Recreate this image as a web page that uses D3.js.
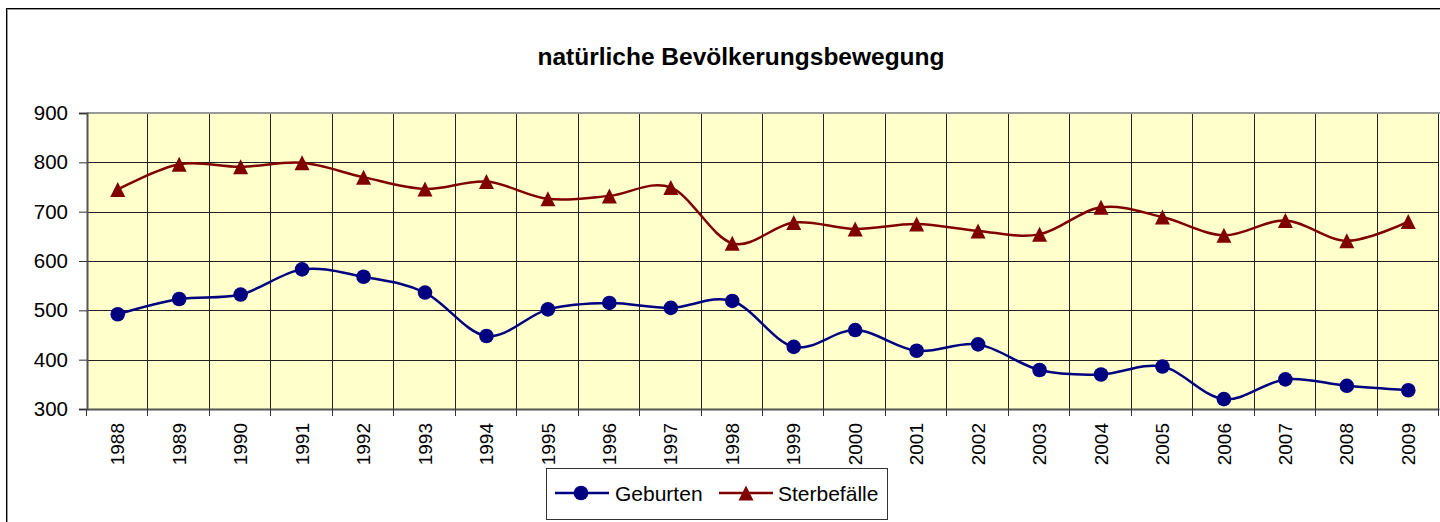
<!DOCTYPE html>
<html>
<head>
<meta charset="utf-8">
<script src="https://cdn.jsdelivr.net/npm/d3@7/dist/d3.min.js"></script>
<style>
  html, body { margin: 0; padding: 0; background: #fff; }
  svg { display: block; }
  text { font-family: Arial, "Liberation Sans", sans-serif; fill: #000; }
</style>
</head>
<body>
<svg id="chart" width="1440" height="522"></svg>
<script>
const title = "natürliche Bevölkerungsbewegung";
const years = ["1988","1989","1990","1991","1992","1993","1994","1995","1996","1997","1998","1999","2000","2001","2002","2003","2004","2005","2006","2007","2008","2009"];
const geburten = [492, 523, 532, 583, 568, 536, 448, 502, 515, 505, 519, 426, 460, 418, 431, 379, 370, 386, 320, 360, 347, 338];
const sterbefaelle = [745, 796, 791, 799, 770, 746, 761, 726, 732, 749, 636, 678, 665, 675, 661, 654, 709, 689, 652, 682, 641, 680];
const yTicks = [300, 400, 500, 600, 700, 800, 900];
const seriesNames = ["Geburten", "Sterbefälle"];

(function () {
const svg = d3.select("#chart");
const pL = 87, pR = 1439, pT = 113, pB = 409;

const x = d3.scaleBand().domain(years).range([pL, pR]).padding(0);
const y = d3.scaleLinear().domain([300, 900]).range([pB, pT]);
const cx = d => x(d) + x.bandwidth() / 2;

// outer frame
svg.append("rect").attr("x", 7.5).attr("y", 9.5).attr("width", 1440).attr("height", 530)
  .attr("fill", "none").attr("stroke", "#999").attr("stroke-width", 1);
svg.append("rect").attr("x", 6.5).attr("y", 8.5).attr("width", 1440).attr("height", 530)
  .attr("fill", "none").attr("stroke", "#000").attr("stroke-width", 1);

// title
svg.append("text").attr("x", 741).attr("y", 56).attr("text-anchor", "middle")
  .attr("dominant-baseline", "central")
  .style("font-size", "24.5px").style("font-weight", "bold").text(title);

// plot background
svg.append("rect").attr("x", pL).attr("y", pT).attr("width", pR - pL).attr("height", pB - pT)
  .attr("fill", "#FFFFCC");

// horizontal gridlines
svg.append("g").selectAll("line").data(yTicks.filter(t => t > 300 && t < 900)).join("line")
  .attr("x1", pL).attr("x2", pR)
  .attr("y1", d => Math.round(y(d)) + 0.5).attr("y2", d => Math.round(y(d)) + 0.5)
  .attr("stroke", "#222").attr("stroke-width", 1);

// vertical gridlines at band boundaries
const bounds = years.slice(1).map(d => x(d)).concat([pR]);
svg.append("g").selectAll("line").data(bounds).join("line")
  .attr("x1", d => Math.round(d) - 0.5).attr("x2", d => Math.round(d) - 0.5)
  .attr("y1", pT).attr("y2", pB)
  .attr("stroke", "#222").attr("stroke-width", 1);

// plot top border
svg.append("line").attr("x1", pL).attr("x2", pR + 1).attr("y1", pT).attr("y2", pT)
  .attr("stroke", "#999").attr("stroke-width", 2);

// y axis
const yAxis = d3.axisLeft(y).tickValues(yTicks).tickSize(8).tickPadding(11).tickFormat(d3.format("d"));
const gy = svg.append("g").attr("transform", `translate(${pL},0)`).call(yAxis);
gy.select(".domain").attr("stroke", "#555").attr("stroke-width", 2);
gy.selectAll(".tick line").attr("stroke", "#333");
gy.selectAll(".tick text").style("font-size", "20.5px").attr("fill", "#000")
  .style("font-family", "Arial, 'Liberation Sans', sans-serif");

// x axis
const xAxis = d3.axisBottom(x).tickSize(0).tickFormat(d => d);
const gx = svg.append("g").attr("transform", `translate(0,${pB})`).call(xAxis);
gx.select(".domain").attr("stroke", "#555").attr("stroke-width", 2);
gx.selectAll(".tick text")
  .style("font-size", "19px").style("font-family", "Arial, 'Liberation Sans', sans-serif")
  .attr("fill", "#000")
  .attr("text-anchor", "end")
  .attr("transform", "translate(0,14) rotate(-90)")
  .attr("x", 0).attr("y", 0).attr("dy", "0.35em");
// x tick marks at band boundaries
svg.append("g").selectAll("line").data([pL].concat(bounds)).join("line")
  .attr("x1", d => Math.round(d) - 0.5).attr("x2", d => Math.round(d) - 0.5)
  .attr("y1", pB).attr("y2", pB + 7)
  .attr("stroke", "#333").attr("stroke-width", 1);

// lines
const line = d3.line().x((d, i) => cx(years[i])).y(d => y(d)).curve(d3.curveCatmullRom.alpha(0));
const blue = "#000080", red = "#800000";
svg.append("path").attr("d", line(geburten)).attr("fill", "none").attr("stroke", blue).attr("stroke-width", 2.5);
svg.append("path").attr("d", line(sterbefaelle)).attr("fill", "none").attr("stroke", red).attr("stroke-width", 2.5);

// markers
svg.append("g").selectAll("circle").data(geburten).join("circle")
  .attr("cx", (d, i) => cx(years[i])).attr("cy", d => y(d)).attr("r", 7.3).attr("fill", blue);
// Excel-style triangle: box-centred, 15px wide and high
const boxTriangle = {
  draw(ctx, size) {
    const h = Math.sqrt(size) / 2;
    ctx.moveTo(0, -h);
    ctx.lineTo(h, h);
    ctx.lineTo(-h, h);
    ctx.closePath();
  }
};
const tri = d3.symbol().type(boxTriangle).size(225);
svg.append("g").selectAll("path").data(sterbefaelle).join("path")
  .attr("d", tri).attr("transform", (d, i) => `translate(${cx(years[i])},${y(d)})`).attr("fill", red);

// legend
const lg = svg.append("g");
lg.append("rect").attr("x", 546.5).attr("y", 468.5).attr("width", 341).attr("height", 51)
  .attr("fill", "#fff").attr("stroke", "#333").attr("stroke-width", 1);
const ly = 493;
lg.append("line").attr("x1", 555).attr("x2", 609).attr("y1", ly).attr("y2", ly).attr("stroke", blue).attr("stroke-width", 2.5);
lg.append("circle").attr("cx", 581).attr("cy", ly).attr("r", 7.3).attr("fill", blue);
lg.append("text").attr("x", 615).attr("y", ly).attr("dominant-baseline", "central").style("font-size", "21px").text(seriesNames[0]);
lg.append("line").attr("x1", 719).attr("x2", 773).attr("y1", ly).attr("y2", ly).attr("stroke", red).attr("stroke-width", 2.5);
lg.append("path").attr("d", tri).attr("transform", `translate(746,${ly})`).attr("fill", red);
lg.append("text").attr("x", 778).attr("y", ly).attr("dominant-baseline", "central").style("font-size", "21px").text(seriesNames[1]);
})();
</script>
</body>
</html>
